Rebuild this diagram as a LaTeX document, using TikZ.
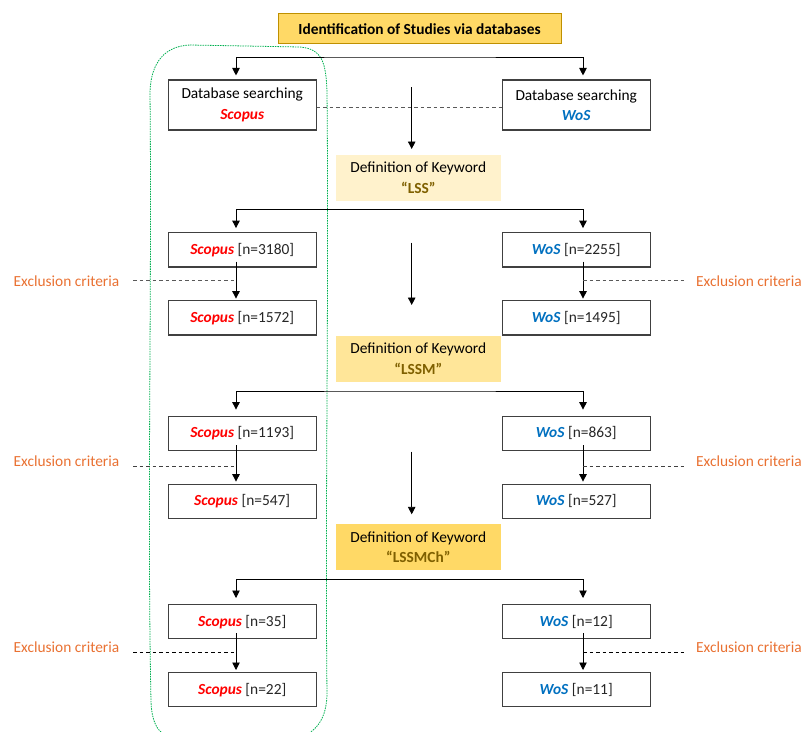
\documentclass[tikz,border=0pt]{standalone}
\usepackage{fontspec}
\setmainfont{Carlito}
\usetikzlibrary{arrows.meta}
\definecolor{scopusred}{HTML}{FF0000}
\definecolor{wosblue}{HTML}{0070C0}
\definecolor{kwbrown}{HTML}{7F6000}
\definecolor{exorange}{HTML}{E97132}
\definecolor{titlefill}{HTML}{FFD966}
\definecolor{titleborder}{HTML}{BF9000}
\definecolor{kwone}{HTML}{FFF2CC}
\definecolor{kwtwo}{HTML}{FFE699}
\definecolor{kwthree}{HTML}{FFD966}
\definecolor{boxgray}{HTML}{404040}
\definecolor{dashgray}{HTML}{595959}
\definecolor{txtgray}{HTML}{262626}
\definecolor{bordergreen}{HTML}{00B050}
\newcommand{\scopusname}{\textcolor{scopusred}{\textbf{\textit{Scopus}}}}
\newcommand{\wosname}{\textcolor{wosblue}{\textbf{\textit{WoS}}}}
\newcommand{\nval}[1]{\textcolor{txtgray}{[n=#1]}}
\begin{document}
\begin{tikzpicture}[x=1pt,y=-1pt,
  every node/.style={font=\fontsize{15.4}{20.5}\selectfont},
  dbbox/.style={draw=boxgray, fill=white, line width=1.1pt, minimum width=147.7pt, minimum height=50pt, inner sep=0pt, align=center},
  nbox/.style={dbbox, minimum height=34.3pt},
  kwbox/.style={minimum width=164.7pt, minimum height=45.7pt, inner sep=0pt, align=center},
  titlebox/.style={draw=titleborder, fill=titlefill, line width=0.9pt, minimum width=283pt, minimum height=30pt, inner sep=0pt, font=\fontsize{15.4}{20.5}\selectfont\bfseries},
  flow/.style={line width=0.9pt, draw=black, -{Triangle[length=7.5pt,width=7.5pt]}},
  branch/.style={line width=0.9pt, draw=black, {Triangle[length=7.5pt,width=7.5pt]}-{Triangle[length=7.5pt,width=7.5pt]}},
  exline/.style={dash pattern=on 3.5pt off 3pt, line width=0.9pt},
  extext/.style={text=exorange, inner sep=0pt},
  greenborder/.style={draw=bordergreen, line width=0.8pt, dash pattern=on 1.5pt off 1pt}
]
\useasboundingbox (0,0) rectangle (802,731);

% green grouping border
\draw[greenborder] (190,45) -- (300,47)
  .. controls (322,49) and (326,62) .. (327,92)
  .. controls (329,300) and (325,500) .. (327,695)
  .. controls (326,724) and (312,736) .. (290,740) -- (180,740)
  .. controls (160,738) and (152,726) .. (151,702)
  .. controls (147,500) and (152,300) .. (150,92)
  .. controls (151,62) and (165,46) .. (190,45) -- cycle;

% title
\node[titlebox] (title) at (419.5,28.7) {Identification of Studies via databases};

% level 0
\node[dbbox] (dbS) at (242.2,105) {Database searching\\ \scopusname};
\node[dbbox] (dbW) at (576.2,105) {Database searching\\ \wosname};
\coordinate (br0) at (410,57);
\draw[branch] ([xshift=-6.2pt,yshift=4pt]dbS.north) |- (br0) -| ([xshift=6.8pt,yshift=4pt]dbW.north);
\draw[exline, draw=dashgray] ([yshift=-2pt]dbS.east) -- ([yshift=-2pt]dbW.west);
\coordinate (m0a) at (411.7,87);
\coordinate (m0b) at (411.7,149);
\draw[flow] (m0a) -- (m0b);
\node[kwbox, fill=kwone] (kw1) at (418.3,177.8) {Definition of Keyword\\ \textcolor{kwbrown}{\textbf{“LSS”}}};

% level 1
\node[nbox] (s1) at (242.2,249.8) {\scopusname\ \nval{3180}};
\node[nbox] (s2) at (242.2,317.8) {\scopusname\ \nval{1572}};
\node[nbox] (w1) at (576.2,249.8) {\wosname\ \nval{2255}};
\node[nbox] (w2) at (576.2,317.8) {\wosname\ \nval{1495}};
\coordinate (br1) at (410,209.3);
\draw[branch] ([xshift=-6.2pt,yshift=4pt]s1.north) |- (br1) -| ([xshift=6.8pt,yshift=4pt]w1.north);
\draw[flow] ([xshift=-6.2pt,yshift=6pt]s1.south) -- ([xshift=-6.2pt,yshift=1.5pt]s2.north);
\draw[flow] ([xshift=6.8pt,yshift=6pt]w1.south) -- ([xshift=6.8pt,yshift=1.5pt]w2.north);
\node[extext] (exL1) at (66.5,281.7) {Exclusion criteria};
\node[extext, anchor=west] (exR1) at (696,281.7) {Exclusion criteria};
\coordinate (eL1a) at (133,280); \coordinate (eL1b) at (236,280);
\coordinate (eR1a) at (583,280); \coordinate (eR1b) at (684,280);
\draw[exline, draw=dashgray] (eL1a) -- (eL1b);
\draw[exline, draw=dashgray] (eR1a) -- (eR1b);
\coordinate (m1a) at (411.7,242.7);
\coordinate (m1b) at (411.7,305);
\draw[flow] (m1a) -- (m1b);
\node[kwbox, fill=kwtwo] (kw2) at (418.3,358.8) {Definition of Keyword\\ \textcolor{kwbrown}{\textbf{“LSSM”}}};

% level 2
\node[nbox] (s3) at (242.2,433.3) {\scopusname\ \nval{1193}};
\node[nbox] (s4) at (242.2,501.3) {\scopusname\ \nval{547}};
\node[nbox] (w3) at (576.2,433.3) {\wosname\ \nval{863}};
\node[nbox] (w4) at (576.2,501.3) {\wosname\ \nval{527}};
\coordinate (br2) at (410,391);
\draw[branch] ([xshift=-6.2pt,yshift=6pt]s3.north) |- (br2) -| ([xshift=6.8pt,yshift=6pt]w3.north);
\draw[flow] ([xshift=-6.2pt,yshift=6pt]s3.south) -- ([xshift=-6.2pt,yshift=2pt]s4.north);
\draw[flow] ([xshift=6.8pt,yshift=6pt]w3.south) -- ([xshift=6.8pt,yshift=2pt]w4.north);
\node[extext] (exL2) at (66.5,461.7) {Exclusion criteria};
\node[extext, anchor=west] (exR2) at (696,461.7) {Exclusion criteria};
\coordinate (eL2a) at (133,466); \coordinate (eL2b) at (236,466);
\coordinate (eR2a) at (583,466); \coordinate (eR2b) at (684,466);
\draw[exline, draw=boxgray] (eL2a) -- (eL2b);
\draw[exline, draw=boxgray] (eR2a) -- (eR2b);
\coordinate (m2a) at (411.7,451.7);
\coordinate (m2b) at (411.7,514.3);
\draw[flow] (m2a) -- (m2b);
\node[kwbox, fill=kwthree] (kw3) at (418.3,547.2) {Definition of Keyword\\ \textcolor{kwbrown}{\textbf{“LSSMCh”}}};

% level 3
\node[nbox] (s5) at (242.2,621.7) {\scopusname\ \nval{35}};
\node[nbox] (s6) at (242.2,689.7) {\scopusname\ \nval{22}};
\node[nbox] (w5) at (576.2,621.7) {\wosname\ \nval{12}};
\node[nbox] (w6) at (576.2,689.7) {\wosname\ \nval{11}};
\coordinate (br3) at (410,579.3);
\draw[branch] ([xshift=-6.2pt,yshift=6pt]s5.north) |- (br3) -| ([xshift=6.8pt,yshift=6pt]w5.north);
\draw[flow] ([xshift=-6.2pt,yshift=6pt]s5.south) -- ([xshift=-6.2pt,yshift=2pt]s6.north);
\draw[flow] ([xshift=6.8pt,yshift=6pt]w5.south) -- ([xshift=6.8pt,yshift=2pt]w6.north);
\node[extext] (exL3) at (66.5,646.7) {Exclusion criteria};
\node[extext, anchor=west] (exR3) at (696,646.7) {Exclusion criteria};
\coordinate (eL3a) at (133,652.3); \coordinate (eL3b) at (236,652.3);
\coordinate (eR3a) at (583,652.3); \coordinate (eR3b) at (684,652.3);
\draw[exline, draw=black] (eL3a) -- (eL3b);
\draw[exline, draw=black] (eR3a) -- (eR3b);
\end{tikzpicture}
\end{document}
